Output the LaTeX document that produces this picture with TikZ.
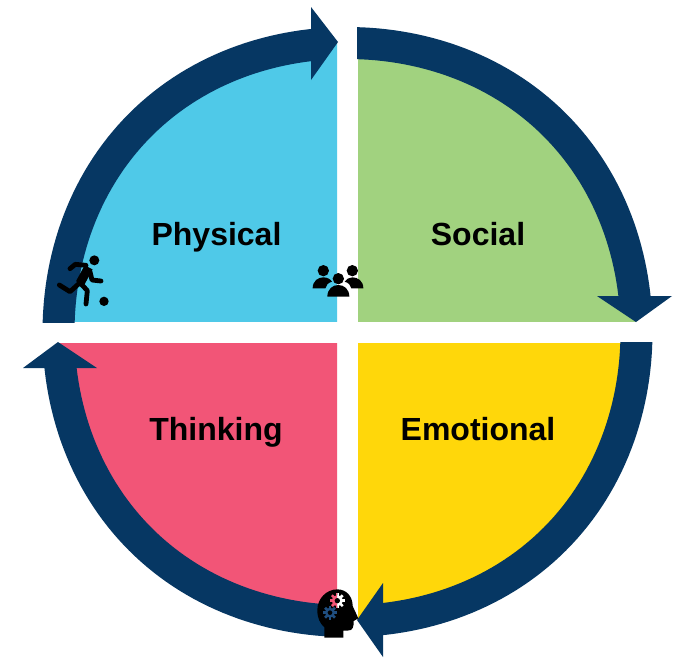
\documentclass[tikz,border=0pt]{standalone}
\usepackage{fontspec}
\setmainfont{Liberation Sans}
\definecolor{navy}{HTML}{063763}
\definecolor{skyq}{HTML}{4FC9E8}
\definecolor{greenq}{HTML}{A1D27F}
\definecolor{yellowq}{HTML}{FFD70A}
\definecolor{pinkq}{HTML}{F25577}
\definecolor{gearblue}{HTML}{1F4E80}
\tikzset{
  lbl/.style={font=\fontsize{32}{36}\selectfont\bfseries,text=black,inner sep=0pt,anchor=base},
  band/.style={draw=navy,line width=32pt},
  ahead/.style={fill=navy,draw=none},
  limb/.style={draw=black,line width=4.8pt,line cap=round,line join=round}
}
\newcommand{\quadrant}[5]{%
  \begin{scope}
    \clip (#1,#2) rectangle (#3,#4);
    \fill[#5,shift={(347.5,332)}] plot[domain=0:360,samples=241] (\x:{289+4*sin(2*\x)*sin(2*\x)}) -- cycle;
  \end{scope}}
\newcommand{\ringpart}[4]{%
  \begin{scope}
    \clip (#1,#2) rectangle (#3,#4);
    \draw[band,shift={(347.5,332)}] plot[domain=0:360,samples=241] (\x:{289+4*sin(2*\x)*sin(2*\x)}) -- cycle;
  \end{scope}}
\begin{document}
\begin{tikzpicture}[x=1pt,y=-1pt]
\useasboundingbox (0,0) rectangle (676,657);
\fill[white] (0,0) rectangle (676,657);
% quadrants
\quadrant{0}{0}{337}{321}{skyq}
\quadrant{358}{0}{676}{321}{greenq}
\quadrant{358}{343}{676}{657}{yellowq}
\quadrant{0}{343}{337}{657}{pinkq}
% ring segments
\ringpart{0}{0}{311}{322}
\ringpart{357}{0}{676}{296}
\ringpart{383}{342}{676}{657}
\ringpart{0}{368}{337}{657}
% arrowheads
\fill[ahead] (311,7) -- (338,42) -- (311,80) -- cycle;
\fill[ahead] (597,296) -- (636,322) -- (672,296) -- cycle;
\fill[ahead] (383,583) -- (357,620) -- (383,657) -- cycle;
\fill[ahead] (23,368) -- (58,342) -- (97,368) -- cycle;
% labels
\node[lbl] (physical) at (216.5,245.5) {Physical};
\node[lbl] (social) at (478,245.5) {Social};
\node[lbl] (thinking) at (216,440.5) {Thinking};
\node[lbl] (emotional) at (478,440.5) {Emotional};
% runner
\begin{scope}[shift={(30,230)},scale=0.3333]
  \fill[black] (193,91) circle[radius=15];
  \fill[black] (222,214) circle[radius=14];
  \draw[limb] (120,116) -- (136,103) -- (168,106);
  \draw[limb,line width=9pt,line cap=butt] (176,112) -- (150,160);
  \draw[limb] (88,165) -- (120,185) -- (150,158) -- (172,182) -- (168,222);
  \draw[limb] (180,125) -- (186,150) -- (213,153);
\end{scope}
% people
\begin{scope}[shift={(290,240)},scale=0.3333]
  \fill[black] (100,92) circle[radius=17];
  \fill[black] (187,92) circle[radius=17];
  \fill[black] (145,116) circle[radius=17];
  \fill[black] (68,145) .. controls (68,122) and (85,112) .. (100,112)
     .. controls (112,112) and (122,118) .. (126,125)
     .. controls (114,128) and (108,136) .. (106,145) -- cycle;
  \fill[black] (220,145) .. controls (220,122) and (203,112) .. (187,112)
     .. controls (177,112) and (168,118) .. (164,125)
     .. controls (176,128) and (182,136) .. (184,145) -- cycle;
  \fill[black] (112,170) .. controls (112,147) and (128,135) .. (145,135)
     .. controls (162,135) and (178,147) .. (178,170) -- cycle;
\end{scope}
% head with gears
\begin{scope}[shift={(290,570)},scale=0.3333]
  \fill[black] (103,203) -- (103,172)
     .. controls (90,160) and (82,145) .. (82,120)
     .. controls (82,85) and (110,58) .. (142,58)
     .. controls (170,58) and (188,80) .. (188,108)
     -- (205,145) -- (191,153)
     .. controls (191,170) and (190,182) .. (172,182)
     -- (160,182) -- (160,203) -- cycle;
  % upper gear
  \begin{scope}
    \clip (118,60) rectangle (142,120);
    \foreach \a in {0,45,...,315}
      \draw[pinkq,line width=2.6pt] (142,92) -- ++(\a:23);
    \fill[pinkq] (142,92) circle[radius=17];
  \end{scope}
  \begin{scope}
    \clip (142,60) rectangle (170,120);
    \foreach \a in {0,45,...,315}
      \draw[white,line width=2.6pt] (142,92) -- ++(\a:23);
    \fill[white] (142,92) circle[radius=17];
  \end{scope}
  \fill[black] (142,92) circle[radius=8];
  % lower gear
  \foreach \a in {0,45,...,315}
    \draw[gearblue,line width=2.6pt] (120,128) -- ++(\a:21);
  \fill[gearblue] (120,128) circle[radius=15];
  \fill[black] (120,128) circle[radius=7];
\end{scope}
\end{tikzpicture}
\end{document}
